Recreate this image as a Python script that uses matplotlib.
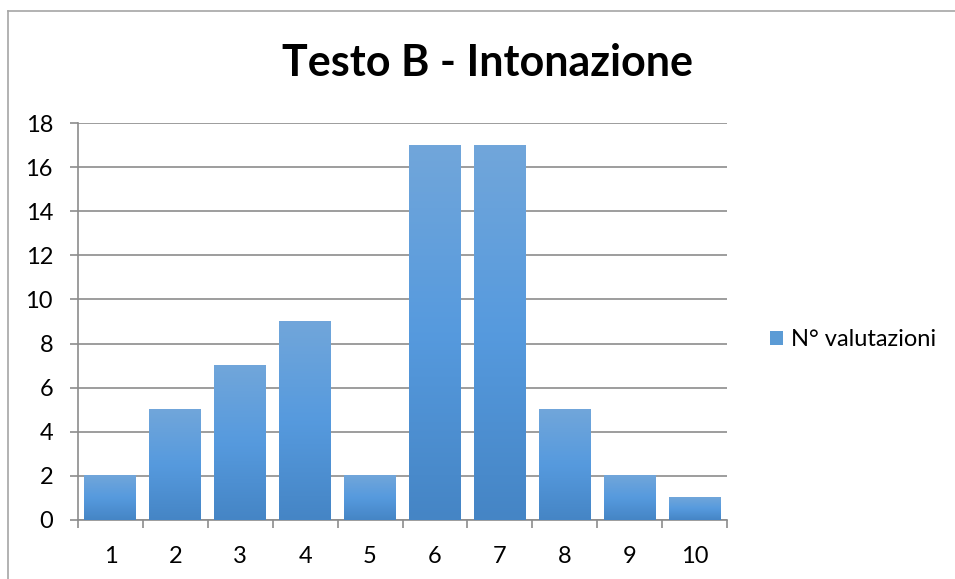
import numpy as np
import matplotlib.pyplot as plt
from matplotlib.colors import LinearSegmentedColormap
from matplotlib.lines import Line2D
from matplotlib.patches import Patch

categorie = ['1', '2', '3', '4', '5', '6', '7', '8', '9', '10']
valutazioni = [2, 5, 7, 9, 2, 17, 17, 5, 2, 1]
titolo = 'Testo B - Intonazione'
serie = 'N° valutazioni'

plt.rcParams['font.family'] = ['Lato', 'DejaVu Sans']

fig = plt.figure(figsize=(9.55, 5.79), dpi=100)
ax = fig.add_axes([78/955, 59/579, 649/955, 397/579])

x = np.arange(len(categorie))
bars = ax.bar(x, valutazioni, width=0.8, color='#5b9bd5', zorder=2)

# gradiente verticale per ogni barra
cmap = LinearSegmentedColormap.from_list('barre', ['#4585c5', '#569ade', '#71a6da'])
grad = np.linspace(0, 1, 256).reshape(-1, 1)
for b in bars:
    bx, by = b.get_x(), b.get_y()
    bw, bh = b.get_width(), b.get_height()
    ax.imshow(grad, cmap=cmap, origin='lower', aspect='auto',
              extent=(bx, bx + bw, by, by + bh), zorder=3)
    b.set_visible(False)

ax.set_xlim(-0.5, len(categorie) - 0.5)
ax.set_ylim(0, 18)
ax.set_yticks(range(0, 19, 2))
ax.set_xticks(x)
ax.set_xticklabels(categorie)
ax.set_xticks(np.arange(-0.5, len(categorie), 1), minor=True)
ax.tick_params(axis='x', which='major', length=0, pad=19, labelsize=17)
ax.tick_params(axis='x', which='minor', length=6, width=1.2, color='#8c8c8c')
ax.tick_params(axis='y', length=6, width=1.2, color='#8c8c8c', pad=12, labelsize=17)

ax.grid(axis='y', color='#8c8c8c', linewidth=1.2, zorder=1)
ax.set_axisbelow(True)
for s in ['top', 'right']:
    ax.spines[s].set_visible(False)
for s in ['left', 'bottom']:
    ax.spines[s].set_color('#8c8c8c')
    ax.spines[s].set_linewidth(1.2)

fig.text(487/955, 1 - 63/579, titolo, ha='center', va='center',
         fontsize=31, fontweight='bold')

handle = Patch(facecolor='#5b9bd5', edgecolor='none')
fig.legend([handle], [serie], loc='center left', bbox_to_anchor=(753/955, 1 - 340/579),
           frameon=False, fontsize=17, handlelength=0.55, handleheight=0.55,
           handletextpad=0.35, borderpad=0.2)

# cornice del grafico
fig.add_artist(Line2D([8/955, 8/955], [0, 1 - 11/579], transform=fig.transFigure,
                      color='#a6a6a6', linewidth=1.2))
fig.add_artist(Line2D([8/955, 1], [1 - 11/579, 1 - 11/579], transform=fig.transFigure,
                      color='#a6a6a6', linewidth=1.2))

fig.savefig('out.png', dpi=100)
